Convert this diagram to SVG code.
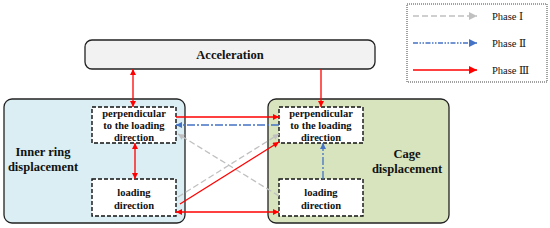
<svg xmlns="http://www.w3.org/2000/svg" width="550" height="228" viewBox="0 0 550 228">
<defs>
<marker id="ar" viewBox="0 0 10 10" refX="10" refY="5" markerWidth="7" markerHeight="6" markerUnits="userSpaceOnUse" orient="auto-start-reverse"><path d="M0,0 L10,5 L0,10 z" fill="#ff0000"/></marker>
<marker id="ab" viewBox="0 0 10 10" refX="10" refY="5" markerWidth="7" markerHeight="6" markerUnits="userSpaceOnUse" orient="auto-start-reverse"><path d="M0,0 L10,5 L0,10 z" fill="#4472c4"/></marker>
<marker id="ag" viewBox="0 0 10 10" refX="10" refY="5" markerWidth="7" markerHeight="6" markerUnits="userSpaceOnUse" orient="auto-start-reverse"><path d="M0,0 L10,5 L0,10 z" fill="#c0c0c0"/></marker>
<marker id="lr" viewBox="0 0 10 10" refX="10" refY="5" markerWidth="11" markerHeight="8" markerUnits="userSpaceOnUse" orient="auto"><path d="M0,0 L10,5 L0,10 z" fill="#ff0000"/></marker>
<marker id="lb" viewBox="0 0 10 10" refX="10" refY="5" markerWidth="11" markerHeight="8" markerUnits="userSpaceOnUse" orient="auto"><path d="M0,0 L10,5 L0,10 z" fill="#4472c4"/></marker>
<marker id="lg" viewBox="0 0 10 10" refX="10" refY="5" markerWidth="11" markerHeight="8" markerUnits="userSpaceOnUse" orient="auto"><path d="M0,0 L10,5 L0,10 z" fill="#c0c0c0"/></marker>
</defs>
<style>
.big{stroke:#222;stroke-width:1.3}
.inner{fill:#fff;stroke:#111;stroke-width:1.4;stroke-dasharray:4 2}
.t{font-family:"Liberation Serif","Times New Roman",serif;font-weight:bold;fill:#111;text-anchor:middle}
.s{font-size:10.5px}
.m{font-size:12.5px}
.lt{font-family:"Liberation Serif","Times New Roman","DejaVu Serif",serif;font-size:10.5px;fill:#111}
.red{stroke:#ff0000;stroke-width:1.3;fill:none}
.blue{stroke:#4472c4;stroke-width:1.3;fill:none;stroke-dasharray:8 2 2 2}
.gray{stroke:#c0c0c0;stroke-width:1.3;fill:none;stroke-dasharray:6 3}
</style>
<g id="legend">
<rect x="407" y="4" width="140" height="78" fill="#fff" stroke="#444" stroke-width="1" stroke-dasharray="1 1"/>
<line x1="413" y1="16" x2="477" y2="16" stroke="#c0c0c0" stroke-width="1.3" stroke-dasharray="6 3" marker-end="url(#lg)"/>
<line x1="413" y1="43" x2="477" y2="43" stroke="#4472c4" stroke-width="1.3" stroke-dasharray="5 1.5 1.5 1.5 1.5 1.5" marker-end="url(#lb)"/>
<line x1="413" y1="70" x2="477" y2="70" stroke="#ff0000" stroke-width="1.3" marker-end="url(#lr)"/>
<text class="lt" x="492" y="20">Phase  Ⅰ</text>
<text class="lt" x="492" y="47">Phase  Ⅱ</text>
<text class="lt" x="492" y="74">Phase  Ⅲ</text>
</g>
<g id="acceleration">
<rect x="85" y="40" width="290" height="29" rx="7" fill="#f2f2f2" class="big"/>
<text class="t m" x="230" y="58.5">Acceleration</text>
</g>
<g id="inner-ring">
<rect x="4" y="99" width="181" height="124" rx="8" fill="#daeef3" class="big"/>
<text class="t m" x="43" y="156">Inner ring</text>
<text class="t m" x="43" y="171">displacement</text>
</g>
<g id="cage">
<rect x="268" y="99" width="181" height="124" rx="8" fill="#d7e4bd" class="big"/>
<text class="t m" x="407" y="158">Cage</text>
<text class="t m" x="407" y="173">displacement</text>
</g>
<g id="ir-perp">
<rect x="92" y="107" width="84" height="36" class="inner"/>
<text class="t s" x="134" y="117">perpendicular</text>
<text class="t s" x="134" y="129">to the loading</text>
<text class="t s" x="134" y="141">direction</text>
</g>
<g id="ir-load">
<rect x="92" y="179" width="84" height="37" class="inner"/>
<text class="t s" x="134" y="196">loading</text>
<text class="t s" x="134" y="209">direction</text>
</g>
<g id="cage-perp">
<rect x="279" y="107" width="84" height="36" class="inner"/>
<text class="t s" x="321" y="117">perpendicular</text>
<text class="t s" x="321" y="129">to the loading</text>
<text class="t s" x="321" y="141">direction</text>
</g>
<g id="cage-load">
<rect x="279" y="179" width="84" height="37" class="inner"/>
<text class="t s" x="321" y="196">loading</text>
<text class="t s" x="321" y="209">direction</text>
</g>
<g id="connectors">
<line class="gray" x1="178" y1="197" x2="279" y2="134" marker-end="url(#ag)"/>
<line class="gray" x1="279" y1="196" x2="178" y2="134" marker-end="url(#ag)"/>
<line class="red" x1="133" y1="69" x2="133" y2="107" marker-start="url(#ar)" marker-end="url(#ar)"/>
<line class="red" x1="135" y1="143" x2="135" y2="179" marker-start="url(#ar)" marker-end="url(#ar)"/>
<line class="red" x1="321" y1="69" x2="321" y2="107" marker-end="url(#ar)"/>
<line class="blue" x1="323" y1="179" x2="323" y2="143" marker-end="url(#ab)"/>
<line class="red" x1="176" y1="117" x2="279" y2="117" marker-end="url(#ar)"/>
<line class="blue" x1="279" y1="125" x2="176" y2="125" marker-end="url(#ab)"/>
<line class="red" x1="180" y1="204" x2="279" y2="142" marker-end="url(#ar)"/>
<line class="red" x1="176" y1="212" x2="279" y2="212" marker-start="url(#ar)" marker-end="url(#ar)"/>
</g>
</svg>
